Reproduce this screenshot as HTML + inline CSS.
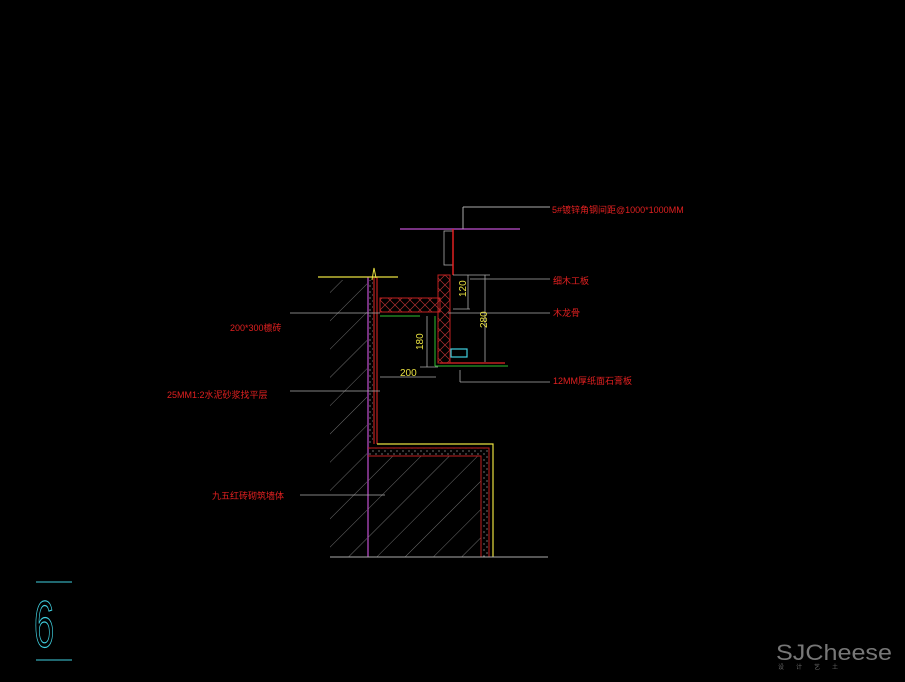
<!DOCTYPE html>
<html><head><meta charset="utf-8"><style>
html,body{margin:0;padding:0;background:#000;width:905px;height:682px;overflow:hidden}
svg{display:block}
text{font-family:"Liberation Sans","Noto Sans CJK SC",sans-serif}
</style></head><body>
<svg width="905" height="682" viewBox="0 0 905 682" xmlns="http://www.w3.org/2000/svg">
<defs>
<pattern id="h" width="20" height="20" patternUnits="userSpaceOnUse" patternTransform="rotate(45)">
<line x1="0" y1="0" x2="0" y2="20" stroke="#8a8a8a" stroke-width="0.8"/>
</pattern>
<pattern id="c" width="6" height="6" patternUnits="userSpaceOnUse">
<circle cx="1" cy="1" r="0.6" fill="#bbb"/><circle cx="4" cy="4" r="0.6" fill="#bbb"/>
</pattern>
<pattern id="x" width="10" height="10" patternUnits="userSpaceOnUse">
<path d="M0 0L10 10M10 0L0 10" stroke="#b03030" stroke-width="0.7"/>
</pattern>
</defs>
<rect x="330" y="280" width="37" height="277" fill="url(#h)"/>
<rect x="368" y="280" width="5" height="164" fill="url(#c)"/>
<line x1="368" y1="277" x2="368" y2="557" stroke="#c050d0" stroke-width="1.2"/>
<line x1="374" y1="277" x2="374" y2="444" stroke="#c02020" stroke-width="1.2"/>
<line x1="377" y1="277" x2="377" y2="444" stroke="#c02020" stroke-width="1.2"/>
<line x1="318" y1="277" x2="398" y2="277" stroke="#e8e040" stroke-width="1.2"/>
<path d="M372 280 L374 268 L376 278" stroke="#e8e040" fill="none"/>
<rect x="368" y="456" width="113" height="101" fill="url(#h)"/>
<rect x="368" y="448" width="120" height="7" fill="url(#c)"/>
<rect x="483" y="456" width="6" height="101" fill="url(#c)"/>
<path d="M377 444 H493 V557" stroke="#e8e040" fill="none" stroke-width="1.2"/>
<path d="M368 448 H489 V557" stroke="#c02020" fill="none"/>
<path d="M368 456 H481 V557" stroke="#c02020" fill="none"/>
<line x1="330" y1="557" x2="548" y2="557" stroke="#aaa"/>
<line x1="400" y1="229" x2="520" y2="229" stroke="#c050d0" stroke-width="1.2"/>
<rect x="444" y="231" width="9" height="34" fill="none" stroke="#aaa" stroke-width="0.8"/>
<line x1="453" y1="229" x2="453" y2="275" stroke="#e02020" stroke-width="1.5"/>
<line x1="463" y1="207" x2="463" y2="229" stroke="#aaa"/>
<line x1="463" y1="207" x2="550" y2="207" stroke="#aaa"/>
<rect x="438" y="275" width="12" height="88" fill="url(#x)" stroke="#c02020"/>
<rect x="380" y="298" width="60" height="14" fill="url(#x)" stroke="#c02020"/>
<line x1="380" y1="316" x2="420" y2="316" stroke="#30c030"/>
<line x1="435" y1="316" x2="435" y2="366" stroke="#30c030"/>
<line x1="435" y1="366" x2="508" y2="366" stroke="#30c030"/>
<line x1="440" y1="363" x2="505" y2="363" stroke="#c02020" stroke-width="1.5"/>
<rect x="451" y="349" width="16" height="8" fill="none" stroke="#40d0e0" stroke-width="1.2"/>
<g stroke="#aaa" stroke-width="0.8" fill="none">
<path d="M453 275 H490 M453 309 H470 M468 275 V309 M485 275 V362 M448 313 H550 M470 279 H550 M427 316 V367 M420 367 H438 M380 377 H436 M460 382 H550 M460 370 V382 M290 313 H380 M290 391 H380 M300 495 H385"/>
</g>
<g fill="#e8e040" font-size="10">
<text transform="translate(466,297) rotate(-90)">120</text>
<text transform="translate(487,328) rotate(-90)">280</text>
<text transform="translate(423,350) rotate(-90)">180</text>
<text x="400" y="376">200</text>
</g>
<g fill="#e02020" font-size="9">
<text x="552" y="213">5#镀锌角钢间距@1000*1000MM</text>
<text x="553" y="284">细木工板</text>
<text x="553" y="316">木龙骨</text>
<text x="553" y="384">12MM厚纸面石膏板</text>
<text x="230" y="331">200*300檩砖</text>
<text x="167" y="398">25MM1:2水泥砂浆找平层</text>
<text x="212" y="499">九五红砖砌筑墙体</text>
</g>
<line x1="36" y1="582" x2="72" y2="582" stroke="#40d0e0"/>
<line x1="36" y1="660" x2="72" y2="660" stroke="#40d0e0"/>
<text transform="translate(34,647) scale(0.55,1)" font-size="66" fill="none" stroke="#40d0e0" stroke-width="1.2">6</text>
<text x="776" y="660" font-size="22" fill="#777" textLength="116" lengthAdjust="spacingAndGlyphs">SJCheese</text>
<text x="778" y="669" font-size="6" fill="#666">设　　计　　艺　　土</text>
</svg>
</body></html>
